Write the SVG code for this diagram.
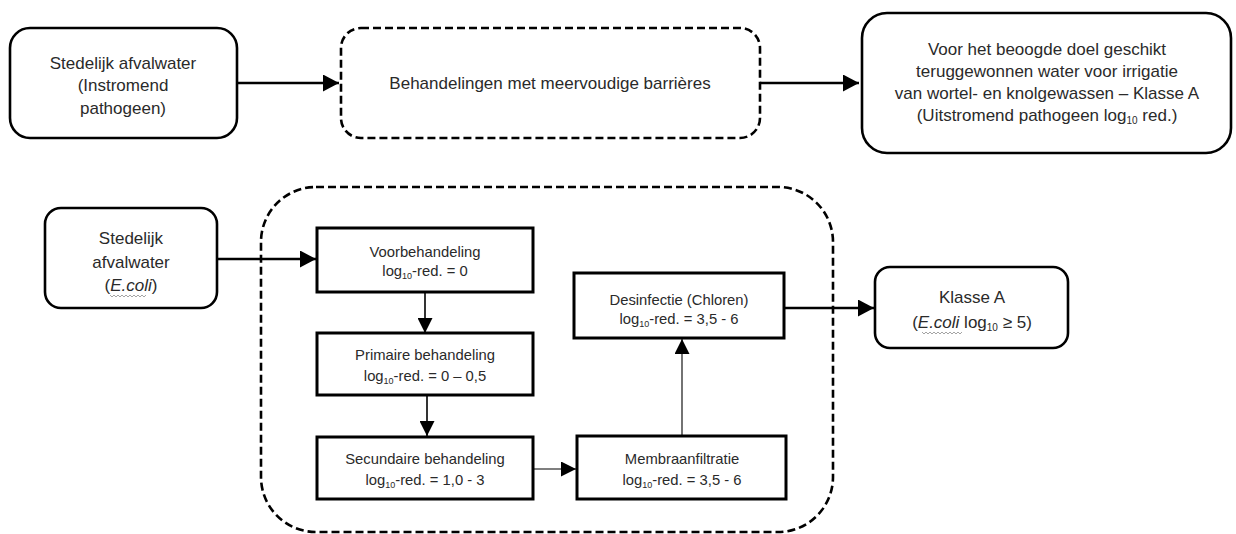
<svg xmlns="http://www.w3.org/2000/svg" width="1236" height="534" viewBox="0 0 1236 534">
<style>
  .box{fill:#fff;stroke:#000;stroke-width:2.6}
  .dash{fill:none;stroke:#000;stroke-width:2.6;stroke-dasharray:8 4}
  .step{fill:#fff;stroke:#000;stroke-width:3}
  .t{font-family:"Liberation Sans",Arial,sans-serif;font-size:17px;fill:#2a2a2a;text-anchor:middle}
  .s{font-family:"Liberation Sans",Arial,sans-serif;font-size:14.8px;fill:#2a2a2a;text-anchor:middle}
  .thick{stroke:#000;stroke-width:2.6;fill:none}
  .mid{stroke:#000;stroke-width:1.6;fill:none}
  .thin{stroke:#000;stroke-width:1.1;fill:none}
  .sq{stroke:#9a9a9a;stroke-width:0.9;fill:none}
</style>
<defs>
  <marker id="big" markerUnits="userSpaceOnUse" markerWidth="17" markerHeight="17" refX="16" refY="8.5" orient="auto">
    <path d="M0,0 L16,8.5 L0,17 Z" fill="#000"/>
  </marker>
  <marker id="small" markerUnits="userSpaceOnUse" markerWidth="16" markerHeight="15" refX="15" refY="7.5" orient="auto">
    <path d="M0,0 L15,7.5 L0,15 Z" fill="#000"/>
  </marker>
</defs>
<rect width="1236" height="534" fill="#fff"/>

<g id="connectors">
  <line class="thick" x1="237" y1="83" x2="339" y2="83" marker-end="url(#big)"/>
  <line class="thick" x1="760" y1="83" x2="859" y2="83" marker-end="url(#big)"/>
  <line class="thick" x1="217" y1="259" x2="316" y2="259" marker-end="url(#big)"/>
  <line class="mid" x1="425" y1="292" x2="425" y2="333" marker-end="url(#small)"/>
  <line class="mid" x1="427" y1="395" x2="427" y2="436" marker-end="url(#small)"/>
  <line class="thin" x1="533" y1="469" x2="576" y2="469" marker-end="url(#small)"/>
  <line class="thin" x1="682" y1="436" x2="682" y2="339" marker-end="url(#small)"/>
  <line class="thick" x1="784" y1="308" x2="874" y2="308" marker-end="url(#big)"/>
</g>

<g id="container">
  <rect class="dash" x="261" y="187" width="572" height="345" rx="55"/>
</g>

<g id="n1">
  <rect class="box" x="10" y="28" width="227" height="110" rx="20"/>
  <text class="t" x="123" y="69">Stedelijk afvalwater</text>
  <text class="t" x="123" y="91">(Instromend</text>
  <text class="t" x="123" y="114">pathogeen)</text>
</g>

<g id="n2">
  <rect class="dash" x="341" y="28" width="419" height="110" rx="20"/>
  <text class="t" x="550" y="89">Behandelingen met meervoudige barrières</text>
</g>

<g id="n3">
  <rect class="box" x="862" y="13" width="369" height="140" rx="25"/>
  <text class="t" x="1047" y="55">Voor het beoogde doel geschikt</text>
  <text class="t" x="1047" y="77">teruggewonnen water voor irrigatie</text>
  <text class="t" x="1047" y="99">van wortel- en knolgewassen – Klasse A</text>
  <text class="t" x="1047" y="121">(Uitstromend pathogeen log<tspan font-size="10" dy="3">10</tspan><tspan dy="-3"> red.)</tspan></text>
</g>

<g id="n4">
  <rect class="box" x="45" y="208" width="172" height="100" rx="16"/>
  <text class="t" x="131" y="244">Stedelijk</text>
  <text class="t" x="131" y="268">afvalwater</text>
  <text class="t" x="131" y="291">(<tspan font-style="italic">E.coli</tspan>)</text>
  <path class="sq" d="M110,295 l2,2 l2,-2 l2,2 l2,-2 l2,2 l2,-2 l2,2 l2,-2 l2,2 l2,-2 l2,2 l2,-2 l2,2 l2,-2 l2,2 l2,-2 l2,2 l2,-2"/>
</g>

<g id="n5">
  <rect class="step" x="317" y="228" width="216" height="64"/>
  <text class="s" x="425" y="257">Voorbehandeling</text>
  <text class="s" x="425" y="276">log<tspan font-size="9" dy="3">10</tspan><tspan dy="-3">-red. = 0</tspan></text>
</g>

<g id="n6">
  <rect class="step" x="317" y="333" width="216" height="62"/>
  <text class="s" x="425" y="360">Primaire behandeling</text>
  <text class="s" x="425" y="381">log<tspan font-size="9" dy="3">10</tspan><tspan dy="-3">-red. = 0 – 0,5</tspan></text>
</g>

<g id="n7">
  <rect class="step" x="317" y="437" width="216" height="62"/>
  <text class="s" x="425" y="464">Secundaire behandeling</text>
  <text class="s" x="425" y="485">log<tspan font-size="9" dy="3">10</tspan><tspan dy="-3">-red. = 1,0 - 3</tspan></text>
</g>

<g id="n8">
  <rect class="step" x="577" y="436" width="209" height="63"/>
  <text class="s" x="682" y="464">Membraanfiltratie</text>
  <text class="s" x="682" y="485">log<tspan font-size="9" dy="3">10</tspan><tspan dy="-3">-red. = 3,5 - 6</tspan></text>
</g>

<g id="n9">
  <rect class="step" x="574" y="273" width="210" height="65"/>
  <text class="s" x="679" y="305">Desinfectie (Chloren)</text>
  <text class="s" x="679" y="324">log<tspan font-size="9" dy="3">10</tspan><tspan dy="-3">-red. = 3,5 - 6</tspan></text>
</g>

<g id="n10">
  <rect class="box" x="875" y="267" width="193" height="81" rx="15"/>
  <text class="t" x="972" y="303">Klasse A</text>
  <text class="t" x="972" y="328">(<tspan font-style="italic">E.coli</tspan> log<tspan font-size="10" dy="3">10</tspan><tspan dy="-3"> ≥ 5)</tspan></text>
  <path class="sq" d="M922,332 l2,2 l2,-2 l2,2 l2,-2 l2,2 l2,-2 l2,2 l2,-2 l2,2 l2,-2 l2,2 l2,-2 l2,2 l2,-2 l2,2 l2,-2 l2,2 l2,-2 l2,2 l2,-2"/>
</g>
</svg>
